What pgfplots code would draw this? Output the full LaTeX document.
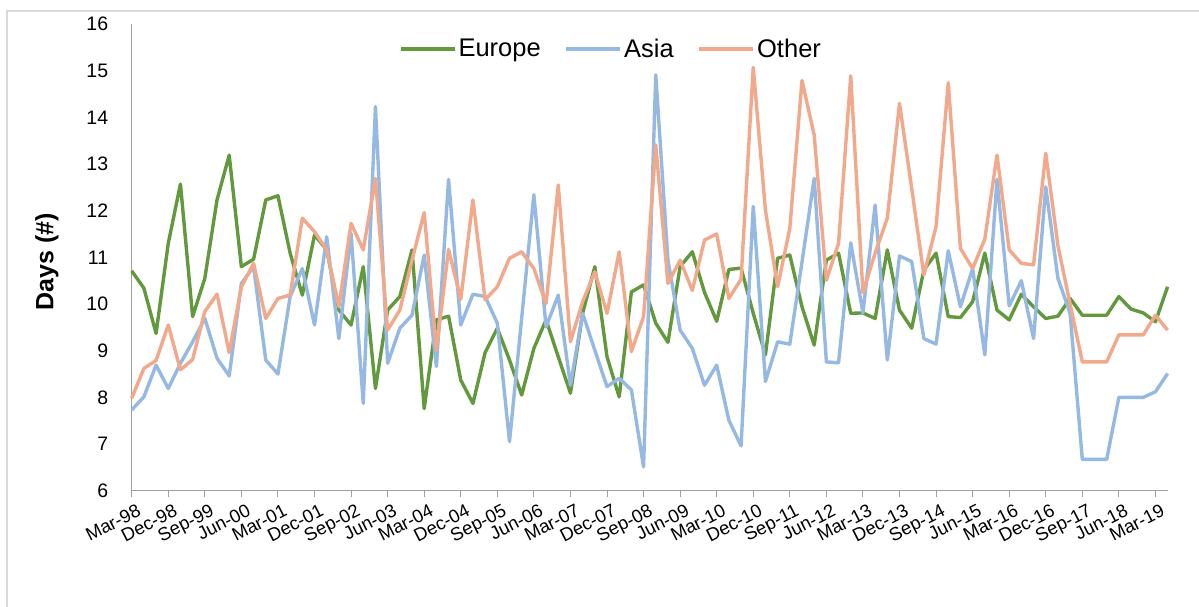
\documentclass[border=0pt]{standalone}
\usepackage{pgfplots}
\pgfplotsset{compat=1.18}
\usepackage{fontspec}
\setmainfont{Liberation Sans}

\definecolor{europe}{RGB}{98,153,60}
\definecolor{asia}{RGB}{149,185,226}
\definecolor{other}{RGB}{242,168,138}
\definecolor{axisgray}{RGB}{160,160,160}
\definecolor{framegray}{RGB}{217,217,217}

% Quarterly series, Mar-98 (q = 0) to Jun-19 (q = 85)
\pgfplotstableread{
q europe asia other
0 10.71 7.73 7.98
1 10.34 8.01 8.62
2 9.37 8.69 8.79
3 11.30 8.19 9.55
4 12.57 8.73 8.59
5 9.73 9.19 8.81
6 10.55 9.69 9.84
7 12.23 8.84 10.21
8 13.19 8.46 8.96
9 10.80 10.44 10.37
10 10.96 10.80 10.87
11 12.23 8.80 9.69
12 12.32 8.50 10.12
13 11.09 10.16 10.19
14 10.19 10.76 11.84
15 11.48 9.55 11.55
16 11.16 11.44 11.16
17 9.87 9.26 9.94
18 9.55 11.51 11.73
19 10.80 7.87 11.16
20 8.19 14.23 12.69
21 9.87 8.73 9.44
22 10.16 9.48 9.87
23 11.16 9.76 10.94
24 7.76 11.05 11.96
25 9.66 8.66 9.01
26 9.74 12.67 11.17
27 8.37 9.55 10.10
28 7.87 10.21 12.23
29 8.96 10.16 10.09
30 9.48 9.59 10.37
31 8.80 7.05 10.98
32 8.05 9.70 11.12
33 9.05 12.34 10.76
34 9.66 9.51 10.01
35 8.87 10.19 12.55
36 8.09 8.26 9.19
37 9.80 9.80 10.05
38 10.80 9.01 10.69
39 8.87 8.23 9.80
40 8.01 8.41 11.12
41 10.26 8.16 8.98
42 10.41 6.51 9.73
43 9.59 14.91 13.41
44 9.18 10.94 10.44
45 10.80 9.44 10.94
46 11.12 9.05 10.29
47 10.25 8.26 11.37
48 9.63 8.69 11.50
49 10.74 7.51 10.12
50 10.77 6.96 10.53
51 9.80 12.09 15.07
52 8.91 8.34 12.01
53 10.98 9.19 10.37
54 11.05 9.14 11.62
55 9.94 10.90 14.79
56 9.12 12.69 13.62
57 10.94 8.76 10.51
58 11.09 8.74 11.30
59 9.80 11.31 14.89
60 9.81 9.81 10.24
61 9.69 12.12 11.09
62 11.16 8.80 11.84
63 9.87 11.03 14.30
64 9.48 10.91 12.48
65 10.73 9.26 10.62
66 11.09 9.14 11.66
67 9.73 11.14 14.74
68 9.71 9.94 11.19
69 10.05 10.76 10.76
70 11.09 8.91 11.39
71 9.87 12.67 13.19
72 9.66 9.96 11.16
73 10.21 10.50 10.87
74 9.94 9.26 10.84
75 9.69 12.51 13.23
76 9.74 10.55 11.25
77 10.12 9.80 10.00
78 9.76 6.67 8.76
79 9.76 6.67 8.76
80 9.76 6.67 8.76
81 10.16 8.00 9.34
82 9.89 8.00 9.34
83 9.81 8.00 9.34
84 9.62 8.12 9.76
85 10.37 8.51 9.44
}\datatable

\begin{document}
\begin{tikzpicture}[x=1pt,y=1pt]
\useasboundingbox (0,0) rectangle (1199,607);
\fill[white] (0,0) rectangle (1199,607);
\draw[framegray, line width=1.5pt] (7,0) -- (7,596) -- (1199,596);
\begin{axis}[
  at={(131.7pt,116.3pt)}, anchor=south west,
  scale only axis, width=1036pt, height=466.7pt,
  xmin=0, xmax=85, ymin=6, ymax=16,
  axis lines=left,
  axis line style={-, draw=axisgray, line width=1.2pt},
  xtick={0,3,...,84},
  xticklabels={Mar-98,Dec-98,Sep-99,Jun-00,Mar-01,Dec-01,Sep-02,Jun-03,Mar-04,Dec-04,Sep-05,Jun-06,Mar-07,Dec-07,Sep-08,Jun-09,Mar-10,Dec-10,Sep-11,Jun-12,Mar-13,Dec-13,Sep-14,Jun-15,Mar-16,Dec-16,Sep-17,Jun-18,Mar-19},
  ytick={6,7,...,16},
  tick align=outside,
  major tick length=6pt,
  xtick style={draw=axisgray, line width=1pt},
  ytick style={draw=none},
  /pgf/number format/assume math mode=true,
  yticklabel style={font=\fontsize{19.5}{21}\selectfont, xshift=-14pt},
  xticklabel style={font=\fontsize{18.5}{20}\selectfont, rotate=27, anchor=north east, inner sep=1pt, yshift=-7pt, xshift=2pt},
  ylabel={Days (\#)},
  ylabel style={font=\fontsize{25}{27}\selectfont\bfseries, at={(axis description cs:-0.0818,0.49)}, anchor=center, rotate=0},
  legend columns=3,
  legend style={draw=none, fill=none, at={(0.4627,0.9465)}, anchor=center,
    font=\fontsize{25.5}{28}\selectfont,
    /tikz/every even column/.append style={column sep=22pt}},
  legend image code/.code={\draw[#1] (0pt,0pt) -- (54pt,0pt);},
  every axis plot/.append style={line width=3.4pt, line join=round, mark=none},
  clip=false,
]
\addplot[europe] table[x=q, y=europe] {\datatable};
\addlegendentry{Europe}
\addplot[asia] table[x=q, y=asia] {\datatable};
\addlegendentry{Asia}
\addplot[other] table[x=q, y=other] {\datatable};
\addlegendentry{Other}
\end{axis}
\end{tikzpicture}
\end{document}
